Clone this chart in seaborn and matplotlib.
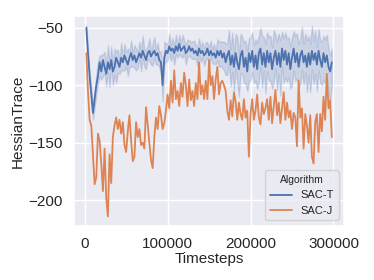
"""
Hessian trace over training for SAC-T and SAC-J
"""

import matplotlib

matplotlib.use("Agg")
import matplotlib.pyplot as plt
import numpy as np
import pandas as pd
import seaborn as sns

# timesteps at which both runs were logged
timesteps = np.arange(2000, 300000, 2000)

# SAC-T: mean over seeds, plus how far the seeds reach above and below it
sac_t_mean = [
    -50, -72, -92, -108, -124, -112, -100, -92, -80, -88,
    -78, -84, -90, -80, -86, -78, -88, -84, -76, -80,
    -84, -76, -80, -74, -78, -82, -76, -72, -78, -74,
    -80, -76, -72, -76, -70, -74, -78, -72, -70, -75,
    -72, -70, -74, -72, -78, -80, -100, -76, -70, -72,
    -66, -70, -68, -72, -66, -70, -64, -70, -68, -66,
    -72, -70, -66, -70, -68, -72, -70, -74, -68, -72,
    -70, -74, -72, -68, -74, -70, -74, -72, -76, -70,
    -74, -70, -76, -72, -80, -74, -70, -82, -74, -84,
    -72, -80, -86, -74, -70, -84, -76, -88, -72, -80,
    -70, -84, -74, -86, -72, -68, -82, -72, -84, -70,
    -80, -72, -86, -76, -70, -82, -72, -84, -68, -78,
    -70, -82, -72, -86, -76, -68, -80, -72, -84, -74,
    -70, -80, -74, -84, -72, -82, -70, -78, -72, -82,
    -70, -78, -84, -72, -80, -74, -84, -88, -80,
]
sac_t_above = [
    2, 3, 4, 5, 6, 5, 9, 12, 6, 14,
    5, 13, 8, 15, 6, 12, 7, 16, 5, 11,
    6, 13, 5, 10, 7, 14, 5, 11, 6, 9,
    12, 5, 10, 6, 13, 5, 9, 6, 11, 5,
    8, 12, 5, 9, 6, 10, 7, 14, 6, 8,
    11, 5, 9, 6, 10, 5, 8, 6, 12, 5,
    7, 10, 5, 8, 6, 11, 5, 7, 9, 5,
    8, 6, 10, 5, 7, 9, 5, 8, 6, 10,
    12, 8, 14, 10, 16, 11, 18, 13, 20, 12,
    17, 22, 14, 19, 12, 21, 15, 18, 13, 22,
    16, 19, 14, 23, 15, 18, 25, 14, 20, 16,
    22, 15, 19, 24, 14, 20, 17, 23, 15, 19,
    16, 22, 14, 20, 18, 15, 23, 17, 20, 14,
    21, 16, 19, 23, 15, 18, 22, 16, 20, 15,
    19, 17, 22, 15, 20, 18, 16, 14, 12,
]
sac_t_below = [
    2, 3, 5, 6, 6, 7, 8, 6, 12, 7,
    14, 6, 11, 8, 16, 6, 12, 7, 22, 9,
    6, 11, 7, 13, 6, 10, 8, 12, 5, 11,
    7, 9, 5, 12, 6, 10, 8, 5, 9, 7,
    11, 6, 8, 10, 6, 9, 14, 6, 9, 7,
    6, 9, 5, 10, 7, 6, 9, 5, 8, 6,
    10, 5, 8, 6, 9, 5, 7, 10, 6, 8,
    5, 9, 6, 8, 10, 5, 7, 9, 6, 8,
    10, 13, 9, 15, 11, 17, 12, 19, 14, 21,
    13, 18, 24, 15, 20, 14, 22, 17, 25, 15,
    19, 14, 22, 17, 25, 16, 20, 15, 23, 18,
    16, 24, 17, 21, 15, 22, 18, 25, 16, 20,
    23, 15, 21, 17, 24, 19, 16, 22, 18, 25,
    17, 20, 15, 22, 19, 24, 16, 21, 18, 23,
    17, 20, 16, 23, 18, 21, 24, 26, 20,
]

# SAC-J: single run
sac_j = [
    -72, -105, -130, -135, -160, -186, -180, -142, -148, -168,
    -192, -155, -198, -214, -160, -185, -145, -135, -128, -138,
    -130, -142, -132, -152, -158, -140, -126, -148, -166, -162,
    -132, -145, -138, -152, -150, -155, -119, -135, -150, -165,
    -172, -145, -128, -138, -118, -126, -138, -133, -122, -108,
    -120, -96, -115, -87, -112, -105, -118, -98, -110, -89,
    -100, -118, -95, -113, -105, -118, -98, -112, -80, -108,
    -100, -112, -96, -112, -78, -100, -92, -112, -95, -84,
    -108, -98, -96, -100, -105, -122, -130, -113, -127, -106,
    -114, -130, -115, -125, -130, -112, -128, -122, -162, -125,
    -112, -130, -122, -108, -128, -134, -115, -125, -120, -112,
    -130, -110, -133, -118, -104, -126, -115, -133, -120, -106,
    -130, -115, -128, -122, -138, -124, -128, -153, -96, -128,
    -120, -155, -125, -135, -150, -126, -162, -168, -132, -125,
    -158, -125, -140, -110, -130, -90, -120, -113, -145,
]

algorithms = ["SAC-T", "SAC-J"]

sns.set_theme(style="darkgrid")
plt.rcParams["font.family"] = ["Liberation Sans", "DejaVu Sans"]

# long form table; the median of (low, mean, high) is the SAC-T mean
t_mean = np.array(sac_t_mean, dtype=float)
t_rows = [
    t_mean - np.array(sac_t_below, dtype=float),
    t_mean,
    t_mean + np.array(sac_t_above, dtype=float),
]
frames = [
    pd.DataFrame(
        {"Timesteps": timesteps, "HessianTrace": values, "Algorithm": algorithms[0]}
    )
    for values in t_rows
]
frames.append(
    pd.DataFrame(
        {"Timesteps": timesteps, "HessianTrace": sac_j, "Algorithm": algorithms[1]}
    )
)
df = pd.concat(frames, ignore_index=True)

fig, ax = plt.subplots(figsize=(3.74, 2.8), dpi=100)
sns.lineplot(
    data=df,
    x="Timesteps",
    y="HessianTrace",
    hue="Algorithm",
    hue_order=algorithms,
    estimator="median",
    errorbar=("pi", 100),
    linewidth=1.3,
    ax=ax,
)

ax.tick_params(labelsize=11, pad=2)
ax.set_xlabel("Timesteps", fontsize=11, labelpad=1)
ax.set_ylabel("HessianTrace", fontsize=11, labelpad=3)
ax.legend(title="Algorithm", loc="lower right", fontsize=8, title_fontsize=7.5)

fig.subplots_adjust(left=0.198, right=0.92, top=0.943, bottom=0.193)
plt.savefig("out.png", dpi=100)
plt.close()
